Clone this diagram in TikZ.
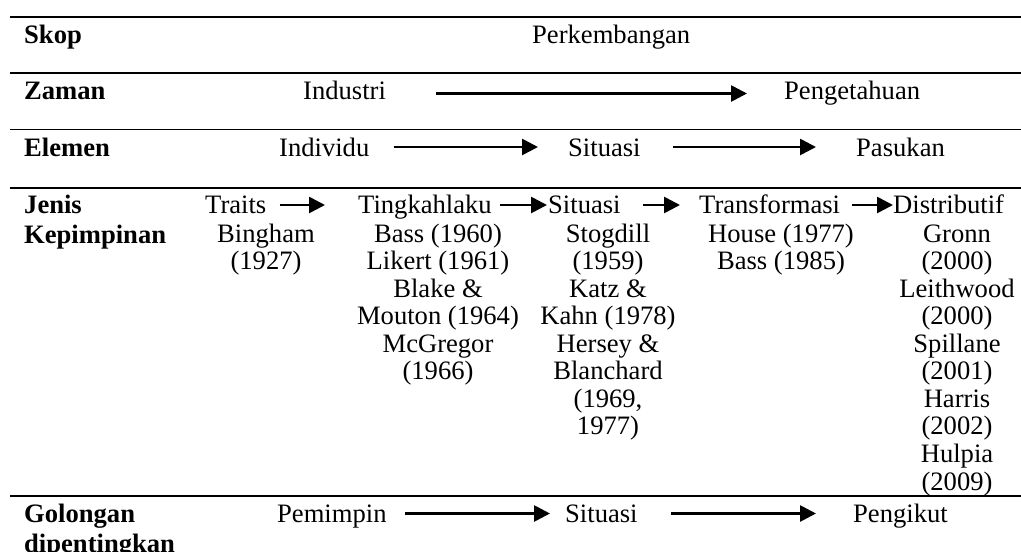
\documentclass[tikz,border=0pt]{standalone}
\usepackage{fontspec}
\setmainfont{Liberation Serif}
\usetikzlibrary{arrows.meta}
\begin{document}
\begin{tikzpicture}[x=1pt,y=-1pt,
  lbl/.style={inner sep=0pt, anchor=base west, font=\fontsize{26.6}{27.56}\selectfont},
  hd/.style={lbl, font=\fontsize{26.6}{30}\selectfont\bfseries},
  cite/.style={inner sep=0pt, anchor=base, font=\fontsize{26.6}{27.56}\selectfont},
  rule/.style={line width=1.7pt},
  arr/.style={line width=2.7pt, -{Triangle[length=16pt,width=16pt]}}]
\useasboundingbox (0,0) rectangle (1021,552);
% rules
\coordinate (r1a) at (10,17);  \coordinate (r1b) at (1021,17);
\coordinate (r2a) at (10,73);  \coordinate (r2b) at (1021,73);
\coordinate (r3a) at (10,129.5); \coordinate (r3b) at (1021,129.5);
\coordinate (r4a) at (10,188); \coordinate (r4b) at (1021,188);
\coordinate (r5a) at (10,496); \coordinate (r5b) at (1021,496);
\foreach \r in {1,...,5} \draw[rule] (r\r a) -- (r\r b);
% row 1
\node[hd] (skop) at (24,43) {Skop};
\node[lbl] (perk) at (532,43) {Perkembangan};
% row 2
\node[hd] (zaman) at (24,99) {Zaman};
\node[lbl] (ind) at (303,99) {Industri};
\node[lbl] (peng) at (784,99) {Pengetahuan};
\draw[arr] ([xshift=50pt,yshift=5.5pt]ind.base east) -- ([xshift=-37pt,yshift=5.5pt]peng.base west);
% row 3
\node[hd] (elemen) at (24,156) {Elemen};
\node[lbl] (indiv) at (279,156) {Individu};
\node[lbl] (sit1) at (568,156) {Situasi};
\node[lbl] (pas) at (856,156) {Pasukan};
\draw[arr] ([xshift=24pt,yshift=9pt]indiv.base east) -- ([xshift=-30pt,yshift=9pt]sit1.base west);
\draw[arr] ([xshift=32pt,yshift=9pt]sit1.base east) -- ([xshift=-40pt,yshift=9pt]pas.base west);
% row 4
\node[hd] (jenis) at (24,213) {\begin{tabular}[t]{@{}l@{}}Jenis\\Kepimpinan\end{tabular}};
\node[lbl] (traits) at (205,213) {Traits};
\node[lbl] (ting) at (358,213) {Tingkahlaku};
\node[lbl] (sit2) at (548,213) {Situasi};
\node[lbl] (trans) at (699,213) {Transformasi};
\node[lbl] (dist) at (893,213) {Distributif};
\draw[arr] ([xshift=13pt,yshift=8pt]traits.base east) -- ([xshift=-33pt,yshift=8pt]ting.base west);
\draw[arr] ([xshift=8pt,yshift=8pt]ting.base east) -- ([xshift=-1pt,yshift=8pt]sit2.base west);
\draw[arr] ([xshift=22pt,yshift=8pt]sit2.base east) -- ([xshift=-19pt,yshift=8pt]trans.base west);
\draw[arr] ([xshift=12pt,yshift=8pt]trans.base east) -- ([xshift=0pt,yshift=8pt]dist.base west);
\node[cite] (c1) at (266,242) {\begin{tabular}[t]{@{}c@{}}Bingham\\(1927)\end{tabular}};
\node[cite] (c2) at (438,242) {\begin{tabular}[t]{@{}c@{}}Bass (1960)\\Likert (1961)\\Blake \&\\Mouton (1964)\\McGregor\\(1966)\end{tabular}};
\node[cite] (c3) at (608,242) {\begin{tabular}[t]{@{}c@{}}Stogdill\\(1959)\\Katz \&\\Kahn (1978)\\Hersey \&\\Blanchard\\(1969,\\1977)\end{tabular}};
\node[cite] (c4) at (781,242) {\begin{tabular}[t]{@{}c@{}}House (1977)\\Bass (1985)\end{tabular}};
\node[cite] (c5) at (957,242) {\begin{tabular}[t]{@{}c@{}}Gronn\\(2000)\\Leithwood\\(2000)\\Spillane\\(2001)\\Harris\\(2002)\\Hulpia\\(2009)\end{tabular}};
% row 5
\node[hd] (gol) at (24,522) {\begin{tabular}[t]{@{}l@{}}Golongan\\dipentingkan\end{tabular}};
\node[lbl] (pem) at (277,522) {Pemimpin};
\node[lbl] (sit3) at (565,522) {Situasi};
\node[lbl] (pengi) at (853,522) {Pengikut};
\draw[arr] ([xshift=18pt,yshift=8.5pt]pem.base east) -- ([xshift=-15pt,yshift=8.5pt]sit3.base west);
\draw[arr] ([xshift=33pt,yshift=8.5pt]sit3.base east) -- ([xshift=-37pt,yshift=8.5pt]pengi.base west);
\end{tikzpicture}
\end{document}
